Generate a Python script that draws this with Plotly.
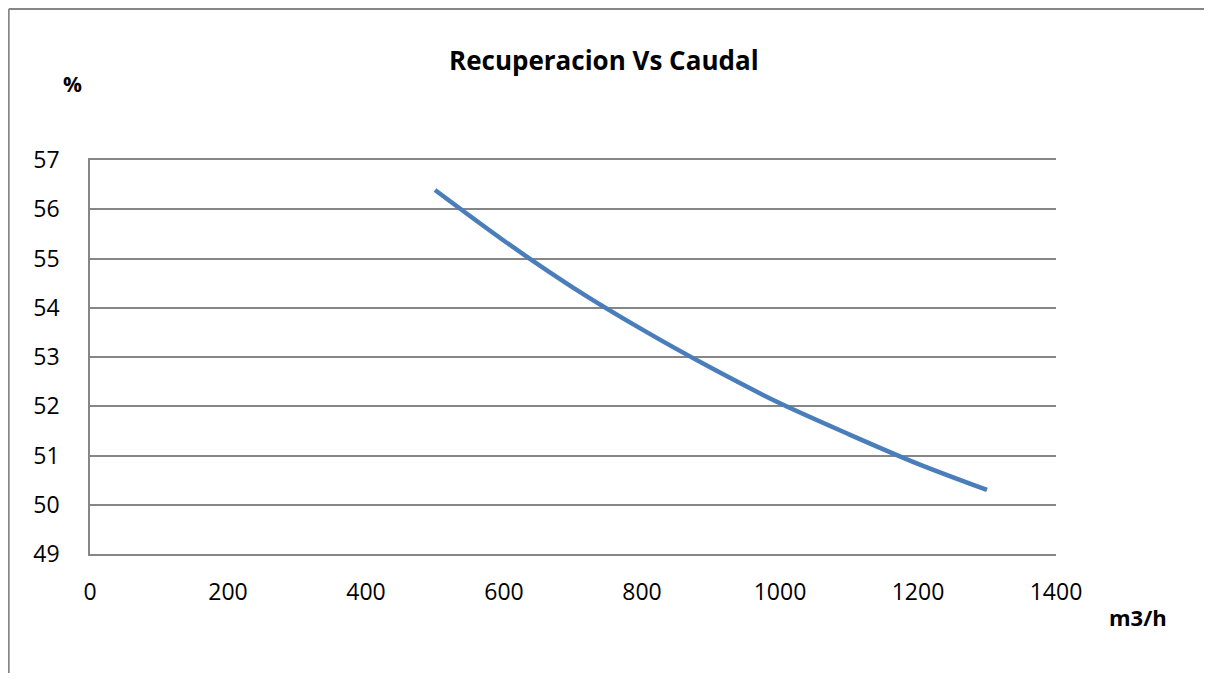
import plotly.graph_objects as go

caudal = [500, 600, 700, 800, 900, 1000, 1100, 1200, 1300]
recuperacion = [56.39, 55.36, 54.41, 53.56, 52.78, 52.06, 51.43, 50.83, 50.30]
x_ticks = [0, 200, 400, 600, 800, 1000, 1200, 1400]
y_ticks = [49, 50, 51, 52, 53, 54, 55, 56, 57]

# page body has an 8px margin; positions below are page pixels minus 8
OFF = 8
W, H = 1196, 665
L, T = 90 - OFF, 160 - OFF
R = W - (1056 - OFF)
B = H - (554 - OFF)
pw, ph = W - L - R, H - T - B


def px(x):
    return (x - OFF - L) / pw


def py(y):
    return 1 - (y - OFF - T) / ph


fig = go.Figure()
fig.add_trace(go.Scatter(
    x=caudal, y=recuperacion, mode="lines",
    line=dict(color="#4A7EBB", width=4.5, shape="spline", smoothing=0.8),
    showlegend=False, hoverinfo="x+y",
))

font_fam = "Open Sans, Noto Sans, sans-serif"
grid_c = "#868686"
fig.update_layout(
    width=W, height=H,
    margin=dict(l=L, r=R, t=T, b=B),
    paper_bgcolor="white", plot_bgcolor="white",
    font=dict(family=font_fam, size=23, color="black"),
    showlegend=False,
    xaxis=dict(range=[0, 1400], tickvals=x_ticks, ticktext=[str(v) for v in x_ticks],
               showgrid=False, zeroline=False, showline=True, mirror=True,
               linecolor=grid_c, linewidth=1.6, ticks="",
               ticklabelstandoff=17, tickfont=dict(size=23)),
    yaxis=dict(range=[49, 57], tickvals=y_ticks, ticktext=[str(v) for v in y_ticks],
               showgrid=True, gridcolor=grid_c, gridwidth=1.6, zeroline=False,
               showline=True, linecolor=grid_c, linewidth=1.6, ticks="",
               ticklabelstandoff=24, tickfont=dict(size=23)),
)

# outer chart border (left and top edges)
fig.add_shape(type="line", xref="paper", yref="paper",
              x0=px(8.8), x1=px(8.8), y0=py(720), y1=py(9.0),
              line=dict(color=grid_c, width=1.8), layer="below")
fig.add_shape(type="line", xref="paper", yref="paper",
              x0=px(8.8), x1=px(1240), y0=py(9.0), y1=py(9.0),
              line=dict(color=grid_c, width=1.8), layer="below")

# title
fig.add_annotation(text="<b>Recuperacion Vs Caudal</b>", xref="paper", yref="paper",
                   x=px(604), y=py(60), xanchor="center", yanchor="middle",
                   showarrow=False, font=dict(size=26, family=font_fam))
# axis titles
fig.add_annotation(text="<b>%</b>", xref="paper", yref="paper",
                   x=px(72), y=py(84), xanchor="center", yanchor="middle",
                   showarrow=False, font=dict(size=21, family=font_fam))
fig.add_annotation(text="<b>m3/h</b>", xref="paper", yref="paper",
                   x=px(1138), y=py(617), xanchor="center", yanchor="middle",
                   showarrow=False, font=dict(size=22, family=font_fam))

fig.write_html("out.html")
